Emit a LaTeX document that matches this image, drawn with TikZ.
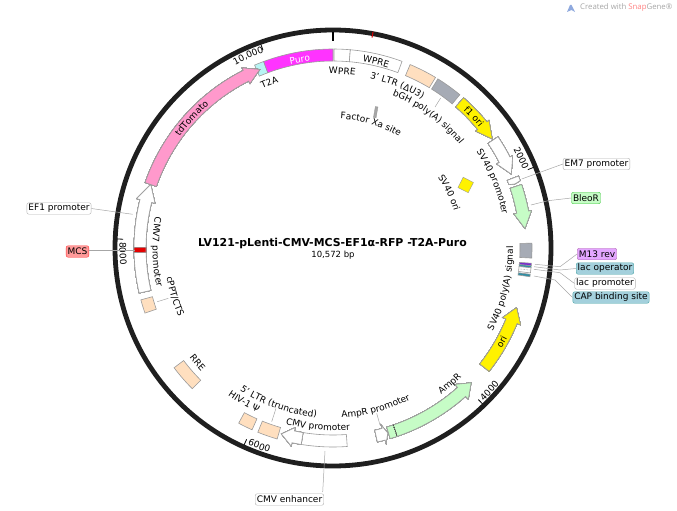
\documentclass[tikz,border=0pt]{standalone}
\usepackage{fontspec}
\setmainfont{DejaVu Sans}
\newfontfamily\logofont{Open Sans}
\usepackage{xcolor}
\usetikzlibrary{decorations.text}
\definecolor{peachc}{HTML}{FFDFBF}
\definecolor{grayc}{HTML}{A6ABB5}
\definecolor{greenc}{HTML}{C6FCC6}
\definecolor{pinkc}{HTML}{FF99CC}
\definecolor{magc}{HTML}{FF33FF}
\definecolor{cyanc}{HTML}{B8F4F4}
\definecolor{tealc}{HTML}{A3D0DC}
\definecolor{edgec}{HTML}{9A9A9A}
\definecolor{purplec}{HTML}{7B2AD0}
\definecolor{tealdk}{HTML}{2F8FA5}
\definecolor{m13c}{HTML}{E3A6FF}
\newcommand{\arcfont}{\fontsize{9}{11}\selectfont}
\newcommand{\featbox}[3]{\draw[feat,fill=#3] ({90-(#1)}:199) arc[start angle={90-(#1)},end angle={90-(#2)},radius=199] -- ({90-(#2)}:187) arc[start angle={90-(#2)},end angle={90-(#1)},radius=187] -- cycle;}
\newcommand{\featarrow}[5]{\draw[feat,fill=#5] ({90-(#1)}:199) arc[start angle={90-(#1)},end angle={90-(#2)},radius=199] -- ({90-(#2)}:{193+#4}) -- ({90-(#3)}:193) -- ({90-(#2)}:{193-#4}) -- ({90-(#2)}:187) arc[start angle={90-(#2)},end angle={90-(#1)},radius=187] -- cycle;}
\newcommand{\arclabel}[5][black]{\path[decorate,decoration={text along path,text align=center,text={|\arcfont\color{#1}|#5}}] ({90-(#3)}:#2) arc[start angle={90-(#3)},end angle={90-(#4)},radius=#2];}
\begin{document}
\begin{tikzpicture}[
  x=1pt,y=1pt,
  every node/.style={font=\fontsize{9}{11}\selectfont},
  feat/.style={draw=edgec,line width=0.6pt,line join=miter},
  lbl/.style={draw=gray!60,rounded corners=2pt,fill=white,inner xsep=1.5pt,inner ysep=0pt,minimum height=11.5pt},
  leader/.style={draw=gray!70,line width=0.5pt},
  tick/.style={line width=0.8pt}
]
  \useasboundingbox (0,0) rectangle (677,-511);
  \begin{scope}[shift={(333,-248)}]
    \draw[line width=4.8pt,draw=black!88] (0,0) circle[radius=218];
    \draw[line width=1.8pt] (90:216) -- (90:207);
    \draw[line width=1pt,red!85!black] (79.5:220) -- (79.5:214);
    \foreach \t in {68.1,136.2,204.3,272.4,340.5} \draw[tick] ({90-\t}:216) -- ({90-\t}:210);
    \foreach \a/\b/\c in {-23.2/-20.4/cyanc,-20.4/0/magc,0.3/5/white,5/20.3/white,22.8/31/peachc,31.8/39.6/grayc,88.6/92.9/grayc,94.4/95.1/purplec,95.1/95.7/tealdk,95.7/97.2/white,97.6/98.3/tealdk,175.9/189.2/white,196.3/202.2/peachc,204/208.3/peachc,225/233/peachc,250.9/254.9/peachc}
      \featbox{\a}{\b}{\c}
    \foreach \a/\h/\b/\w/\c in {41/50.7/55.6/8.5/yellow,56/62.8/67.5/9/white,68.8/70.2/70.6/6/white,71.4/79.3/84.2/9/greenc,128.3/112.3/108/9.7/yellow,163.3/138.2/134.3/10/greenc,167.1/164.8/163.5/9.5/white,189.2/191.9/195.5/9.5/white,256.9/284.1/289.2/9.5/white,289.2/333.2/337.7/8.8/pinkc}
      \featarrow{\a}{\h}{\b}{\w}{\c}
    \featbox{268.7}{270.2}{red!90!black}
    \draw[dash pattern=on 1pt off 1pt,line width=0.6pt,black!70] ({90-161.2}:187) -- ({90-161.2}:199);
    \draw[densely dotted,line width=0.5pt,gray] ({90-96.4}:188) -- ({90-96.4}:198);
    \node[draw=edgec,fill=yellow,minimum size=11.5pt,inner sep=0pt,rotate=-27] (svori) at (132.7,63) {};
    \node[draw=edgec,fill=gray!70,minimum width=2.6pt,minimum height=11pt,inner sep=0pt,rotate=-10] (xa) at (42.7,135.8) {};
    \arclabel[white]{188.5}{-25}{5}{Puro}
    \arclabel{188.5}{3}{23}{WPRE}
    \arclabel{174}{-12}{18}{WPRE}
    \arclabel{174.5}{-33}{-9}{T2A}
    \arclabel{173.5}{1.6}{41.6}{3' LTR (ΔU3)}
    \arclabel{163.5}{6}{66}{bGH poly(A) signal}
    \arclabel{129.5}{-13}{47}{Factor Xa site}
    \arclabel{189.5}{37}{57}{f1 ori}
    \arclabel{172.5}{42.5}{92.5}{SV40 promoter}
    \arclabel{126.5}{44.5}{84.5}{SV40 ori}
    \arclabel{180}{128.5}{78.5}{SV40 poly(A) signal}
    \arclabel{196}{134}{104}{ori}
    \arclabel{182}{154.3}{124.3}{AmpR}
    \arclabel{170}{190}{140}{AmpR promoter}
    \arclabel{182.5}{204.8}{164.8}{CMV promoter}
    \arclabel{170}{224.4}{174.4}{5' LTR (truncated)}
    \arclabel{181}{225}{195}{HIV-1 Ψ}
    \arclabel{180.5}{244.8}{214.8}{RRE}
    \arclabel{169}{273}{233}{cPPT/CTS}
    \arclabel{180.5}{293.7}{243.7}{CMV7 promoter}
    \arclabel{189.5}{292.5}{332.5}{tdTomato}
    \arclabel{205.5}{49.5}{79.5}{2000}
    \arclabel{215}{147.4}{117.4}{4000}
    \arclabel{214.5}{215.4}{185.4}{6000}
    \arclabel{213.5}{283.5}{253.5}{8000}
    \arclabel{207.5}{-38.8}{-8.8}{10,000}
  \end{scope}
  \node[font=\fontsize{10.9}{13}\selectfont\bfseries] (title) at (332.5,-243.5) {LV121-pLenti-CMV-MCS-EF1α-RFP -T2A-Puro};
  \node[font=\fontsize{8.5}{10}\selectfont] (size) at (333,-255.5) {10,572 bp};
  \node[lbl] (em7) at (596.5,-164) {EM7 promoter};
  \node[lbl,fill=greenc,draw=green!55!gray] (bleo) at (586,-198) {BleoR};
  \node[lbl,fill=m13c,draw=violet!60] (m13) at (597,-254) {M13 rev};
  \node[lbl,fill=tealc,draw=teal!70] (lacop) at (605,-268.5) {lac operator};
  \node[lbl] (lacpr) at (605,-283.5) {lac promoter};
  \node[lbl,fill=tealc,draw=teal!70] (cap) at (611,-297.5) {CAP binding site};
  \node[lbl] (ef1) at (59,-208.5) {EF1 promoter};
  \node[lbl,fill=red!40,draw=red!80] (mcs) at (77.5,-251.5) {MCS};
  \node[lbl] (cmve) at (289.5,-499.5) {CMV enhancer};
  \coordinate (em7a) at (521.7,-179);
  \coordinate (bleoa) at (531,-205);
  \coordinate (bleob) at (548,-200.7);
  \coordinate (m13a) at (535,-264.3);
  \coordinate (m13b) at (560,-266.7);
  \coordinate (lacopa) at (534,-266.7);
  \coordinate (lacopb) at (560,-270);
  \coordinate (lacpra) at (534,-269.3);
  \coordinate (lacprb) at (560,-272.7);
  \coordinate (capa) at (534,-276);
  \coordinate (capb) at (555,-280);
  \coordinate (ef1a) at (132.7,-214.3);
  \coordinate (mcsa) at (135,-250);
  \coordinate (mcsb) at (89,-250);
  \coordinate (cmvea) at (325,-451);
  \coordinate (cmveb) at (322.7,-492);
  \coordinate (bgha) at (440.7,-98);
  \coordinate (bghb) at (435,-107);
  \coordinate (cppta) at (157.3,-301.7);
  \coordinate (cpptb) at (168.3,-298.3);
  \coordinate (ltra) at (271.7,-421.7);
  \coordinate (ltrb) at (276,-408.3);
  \coordinate (ampa) at (376.7,-413.3);
  \coordinate (ampb) at (380,-425);
  \draw[leader] (em7a) -- (em7.west);
  \draw[leader] (bleoa) -- (bleob) -- (bleo.west);
  \draw[leader] (m13a) -- (m13b) -- (m13.west);
  \draw[leader] (lacopa) -- (lacopb) -- (lacop.west);
  \draw[leader] (lacpra) -- (lacprb) -- (lacpr.west);
  \draw[leader] (capa) -- (capb) -- (cap.west);
  \draw[leader] (ef1a) -- (ef1.east);
  \draw[leader] (mcsa) -- (mcsb);
  \draw[leader] (cmvea) -- (cmveb);
  \draw[leader] (bgha) -- (bghb);
  \draw[leader] (cppta) -- (cpptb);
  \draw[leader] (ltra) -- (ltrb);
  \draw[leader] (ampa) -- (ampb);
  \fill[cyan!45!blue!45] (567,-12) -- (570,-5) -- (571.5,-5) -- (575,-12) -- (571.5,-10) -- cycle;
  \node[anchor=west,inner sep=0pt,font=\logofont\fontsize{7.8}{10}\selectfont,text=gray!70] (created) at (580,-7.5) {Created with \textcolor{red!50}{Snap}Gene®};
\end{tikzpicture}
\end{document}
